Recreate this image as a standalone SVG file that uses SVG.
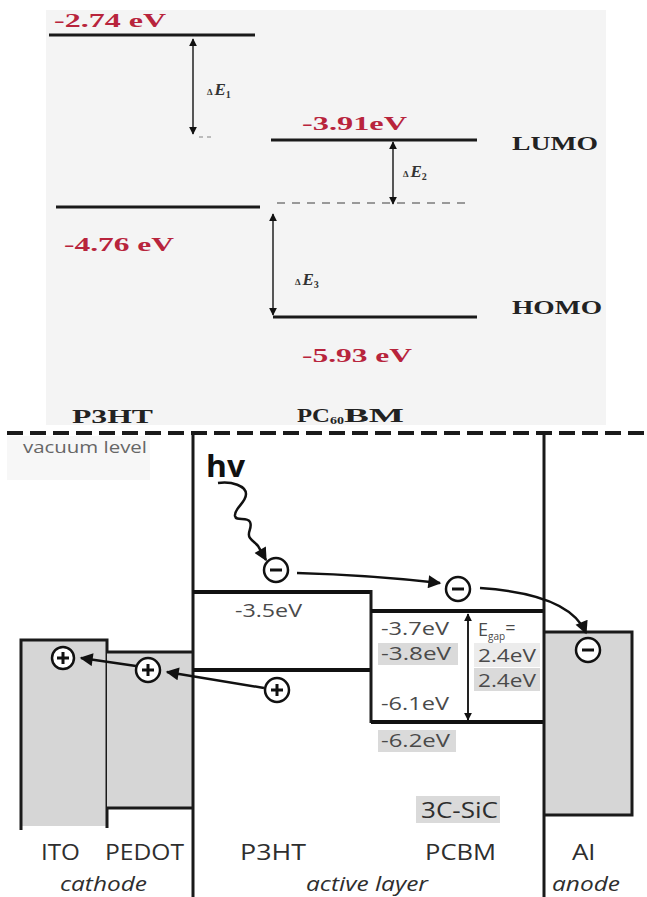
<svg xmlns="http://www.w3.org/2000/svg" width="647" height="897" viewBox="0 0 647 897">
<defs>
<style>
.lvl{stroke:#1a1a1a;stroke-width:3;fill:none}
.red{font-family:"Liberation Serif",serif;font-weight:bold;font-size:18px;fill:#b8243c}
.blk{font-family:"Liberation Serif",serif;font-weight:bold;font-size:19px;fill:#222}
.de{font-family:"Liberation Serif",serif;font-weight:bold;fill:#333}
.thin{stroke:#222;stroke-width:1.5;fill:none}
.band{stroke:#111;stroke-width:4;fill:none}
.edge{stroke:#1a1a1a;stroke-width:3;fill:none}
.box{fill:#d6d6d6}
.lab{font-family:"Open Sans","Liberation Sans",sans-serif;font-size:21px;fill:#2e2e2e}
.ital{font-family:"Open Sans","Liberation Sans",sans-serif;font-size:20px;font-style:italic;fill:#2e2e2e}
.val{font-family:"Open Sans","Liberation Sans",sans-serif;font-size:18px;fill:#4a4a4a}
.hl{fill:#dadada}
.chg{fill:#fff;stroke:#111;stroke-width:2.5}
.sg{stroke:#111;stroke-width:3;fill:none}
.arr{stroke:#111;stroke-width:2.5;fill:none;marker-end:url(#ah)}
</style>
<marker id="ah" viewBox="0 0 10 10" refX="9" refY="5" markerWidth="15" markerHeight="13" markerUnits="userSpaceOnUse" orient="auto"><path d="M0,0 L10,5 L0,10 z" fill="#111"/></marker>
<marker id="sh" viewBox="0 0 10 10" refX="9" refY="5" markerWidth="8" markerHeight="9" markerUnits="userSpaceOnUse" orient="auto-start-reverse"><path d="M0,0 L10,5 L0,10 z" fill="#111"/></marker>
</defs>
<rect width="647" height="897" fill="#fff"/>

<g id="top-panel">
<rect x="46" y="10" width="560" height="415" fill="#f4f4f4"/>
<g id="p3ht-lumo">
<line class="lvl" x1="49" y1="35" x2="255" y2="35"/>
<text class="red" x="54" y="27" textLength="112" lengthAdjust="spacingAndGlyphs">-2.74 eV</text>
</g>
<g id="p3ht-homo">
<line class="lvl" x1="56" y1="207" x2="260" y2="207"/>
<text class="red" x="64" y="251" textLength="110" lengthAdjust="spacingAndGlyphs">-4.76 eV</text>
</g>
<g id="pcbm-lumo">
<line class="lvl" x1="271" y1="140" x2="477" y2="140"/>
<text class="red" x="302" y="130" textLength="105" lengthAdjust="spacingAndGlyphs">-3.91eV</text>
</g>
<g id="pcbm-homo">
<line class="lvl" x1="273" y1="317" x2="477" y2="317"/>
<text class="red" x="302" y="362" textLength="110" lengthAdjust="spacingAndGlyphs">-5.93 eV</text>
</g>
<line x1="277" y1="203" x2="472" y2="203" stroke="#999" stroke-width="2" stroke-dasharray="8 7"/>
<line x1="199" y1="137" x2="214" y2="137" stroke="#bbb" stroke-width="2" stroke-dasharray="4 4"/>
<text class="blk" x="512" y="150" textLength="86" lengthAdjust="spacingAndGlyphs">LUMO</text>
<text class="blk" x="512" y="314" textLength="90" lengthAdjust="spacingAndGlyphs">HOMO</text>
<text class="blk" x="72" y="423" font-size="21" textLength="81" lengthAdjust="spacingAndGlyphs">P3HT</text>
<text class="blk" x="297" y="422" font-size="21"><tspan textLength="33" lengthAdjust="spacingAndGlyphs">PC</tspan><tspan font-size="11" dy="2" textLength="14" lengthAdjust="spacingAndGlyphs">60</tspan><tspan dy="-2" textLength="60" lengthAdjust="spacingAndGlyphs">BM</tspan></text>
<g id="top-arrows">
<line class="thin" x1="193" y1="39" x2="193" y2="134" marker-start="url(#sh)" marker-end="url(#sh)"/>
<line class="thin" x1="393" y1="142" x2="393" y2="204" marker-start="url(#sh)" marker-end="url(#sh)"/>
<line class="thin" x1="273" y1="214" x2="273" y2="315" marker-start="url(#sh)" marker-end="url(#sh)"/>
</g>
<text class="de" x="207" y="95"><tspan font-size="9">∆</tspan><tspan font-size="17" font-style="italic" dx="2">E</tspan><tspan font-size="10" dy="3">1</tspan></text>
<text class="de" x="403" y="177"><tspan font-size="9">∆</tspan><tspan font-size="17" font-style="italic" dx="2">E</tspan><tspan font-size="10" dy="3">2</tspan></text>
<text class="de" x="295" y="285"><tspan font-size="9">∆</tspan><tspan font-size="17" font-style="italic" dx="2">E</tspan><tspan font-size="10" dy="3">3</tspan></text>
</g>

<g id="vacuum">
<rect x="7" y="436" width="143" height="44" fill="#f7f7f7"/>
<line x1="7" y1="433" x2="647" y2="433" stroke="#1a1a1a" stroke-width="4" stroke-dasharray="16 7"/>
<text x="23" y="453" font-family="Open Sans, Liberation Sans, sans-serif" font-size="16" fill="#666" textLength="124" lengthAdjust="spacingAndGlyphs">vacuum level</text>
</g>

<g id="ito">
<rect class="box" x="21" y="640" width="86" height="186"/>
<path class="edge" d="M21,830 V640 H107 V828"/>
<text class="lab" x="41" y="860" textLength="39" lengthAdjust="spacingAndGlyphs">ITO</text>
</g>
<g id="pedot">
<rect class="box" x="107" y="652" width="86" height="156"/>
<path class="edge" d="M107,652 H193 M107,808 H193"/>
<text class="lab" x="105" y="860" textLength="79" lengthAdjust="spacingAndGlyphs">PEDOT</text>
</g>
<text class="ital" x="60" y="891" textLength="87" lengthAdjust="spacingAndGlyphs">cathode</text>

<g id="p3ht">
<path class="edge" d="M193,433 V897"/>
<path class="band" d="M193,592 H371"/>
<path class="band" d="M193,670 H371"/>
<path class="edge" d="M371,590 V723"/>
<text class="val" x="235" y="617" textLength="67" lengthAdjust="spacingAndGlyphs">-3.5eV</text>
<text class="lab" x="240" y="860" textLength="66" lengthAdjust="spacingAndGlyphs">P3HT</text>
</g>

<g id="pcbm">
<path class="band" d="M371,611 H544" stroke-width="5"/>
<path class="band" d="M371,722 H544" stroke-width="5"/>
<text class="val" x="381" y="635" textLength="68" lengthAdjust="spacingAndGlyphs">-3.7eV</text>
<rect class="hl" x="378" y="643" width="80" height="22"/>
<text class="val" x="381" y="660" textLength="70" lengthAdjust="spacingAndGlyphs">-3.8eV</text>
<text class="val" x="381" y="710" textLength="68" lengthAdjust="spacingAndGlyphs">-6.1eV</text>
<rect class="hl" x="378" y="730" width="78" height="22"/>
<text class="val" x="381" y="747" textLength="69" lengthAdjust="spacingAndGlyphs">-6.2eV</text>
<text class="val" x="478" y="636">E<tspan font-size="10" dy="4">gap</tspan><tspan dy="-6">=</tspan></text>
<rect x="474" y="643" width="66" height="24" fill="#ececec"/>
<text class="val" x="478" y="662" textLength="58" lengthAdjust="spacingAndGlyphs">2.4eV</text>
<rect class="hl" x="474" y="668" width="66" height="23"/>
<text class="val" x="478" y="687" textLength="58" lengthAdjust="spacingAndGlyphs">2.4eV</text>
<rect class="hl" x="416" y="796" width="84" height="27"/>
<text class="lab" x="421" y="818" textLength="77" lengthAdjust="spacingAndGlyphs">3C-SiC</text>
<text class="lab" x="425" y="860" textLength="71" lengthAdjust="spacingAndGlyphs">PCBM</text>
</g>
<text class="ital" x="306" y="891" textLength="122" lengthAdjust="spacingAndGlyphs">active layer</text>

<g id="al">
<rect class="box" x="544" y="632" width="88" height="183"/>
<path class="edge" d="M544,433 V897 M544,632 H632 V815 H544"/>
<text class="lab" x="572" y="860" textLength="23" lengthAdjust="spacingAndGlyphs">Al</text>
<text class="ital" x="552" y="891" textLength="68" lengthAdjust="spacingAndGlyphs">anode</text>
</g>

<g id="hv">
<text x="206" y="477" font-family="Open Sans, Liberation Sans, sans-serif" font-size="30" font-weight="bold" fill="#111" textLength="39" lengthAdjust="spacingAndGlyphs">hv</text>
</g>

<g id="connectors">
<path class="arr" d="M218,483 C232,481 246,486 246,494 C246,503 234,508 235,516 C236,522 247,516 250,522 C253,528 246,533 250,538 C253,542 256,543 258,546 L266,560"/>
<path class="arr" d="M297,573 Q370,575 440,583"/>
<path class="arr" d="M480,588 Q570,594 586,633"/>
<path class="arr" d="M264,688 L167,672"/>
<path class="arr" d="M136,666 L81,658"/>
<line x1="468" y1="614" x2="468" y2="720" stroke="#222" stroke-width="2" marker-start="url(#sh)" marker-end="url(#sh)"/>
</g>

<g id="charges">
<g id="e1"><circle class="chg" cx="276" cy="570" r="12"/><path class="sg" d="M270,570 H282"/></g>
<g id="e2"><circle class="chg" cx="458" cy="589" r="12"/><path class="sg" d="M452,589 H464"/></g>
<g id="e3"><circle class="chg" cx="588" cy="650" r="12"/><path class="sg" d="M582,650 H594"/></g>
<g id="h1"><circle class="chg" cx="277" cy="690" r="12"/><path class="sg" stroke-width="2.2" d="M271,690 H283 M277,684 V696"/></g>
<g id="h2"><circle class="chg" cx="148" cy="670" r="12"/><path class="sg" stroke-width="2.2" d="M142,670 H154 M148,664 V676"/></g>
<g id="h3"><circle class="chg" cx="63" cy="658" r="11"/><path class="sg" stroke-width="2.2" d="M57,658 H69 M63,652 V664"/></g>
</g>
</svg>
